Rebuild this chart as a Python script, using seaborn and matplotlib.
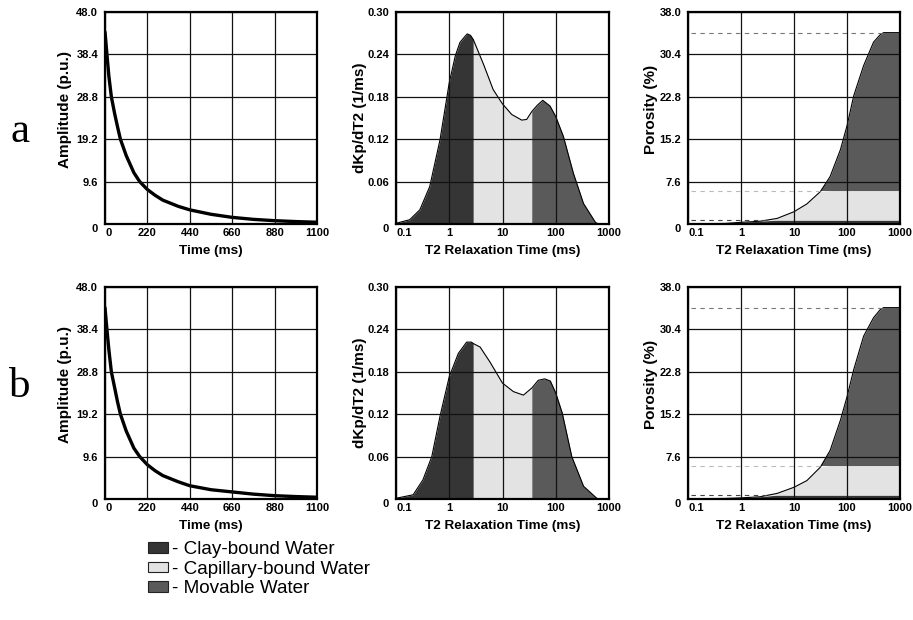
import numpy as np
import pandas as pd
import matplotlib
matplotlib.use("Agg")
import matplotlib.pyplot as plt
from matplotlib.patches import Patch
import seaborn as sns

# ---- data ----
# echo decay (left panels)
decay_t = [0, 5, 10, 20, 33, 50, 65, 80, 110, 150, 180, 220, 260, 300, 380, 440,
           550, 660, 770, 880, 990, 1100]
decay_a = [43.5, 41.0, 38.4, 33.5, 28.8, 25.0, 22.0, 19.2, 15.5, 11.6, 9.6, 7.8,
           6.5, 5.4, 4.0, 3.2, 2.2, 1.5, 1.05, 0.75, 0.55, 0.4]
decay_b = [43.3, 40.8, 38.4, 33.8, 28.8, 25.2, 22.0, 19.2, 15.4, 11.5, 9.6, 7.75,
           6.4, 5.3, 3.9, 3.0, 2.1, 1.6, 1.1, 0.75, 0.55, 0.4]

# T2 distribution (middle panels)
t2_a = [0.1, 0.18, 0.28, 0.43, 0.67, 1.0, 1.3, 1.59, 2.0, 2.18, 2.5, 2.83, 4.4, 6.7, 10,
        14.9, 23, 28.5, 35.4, 45, 57, 78, 100, 139, 214, 332, 560, 650]
dist_a = [0.001, 0.006, 0.02, 0.053, 0.119, 0.200, 0.238, 0.257, 0.266, 0.269, 0.267, 0.261,
          0.226, 0.190, 0.170, 0.155, 0.147, 0.148, 0.159, 0.168, 0.175, 0.167, 0.152,
          0.124, 0.072, 0.029, 0.002, 0.0]
t2_b = [0.1, 0.21, 0.32, 0.47, 0.67, 1.0, 1.48, 2.12, 2.6, 2.83, 3.8, 5.8, 10, 16,
        24.7, 35.5, 47, 62, 79, 100, 132, 200, 333, 590, 650]
dist_b = [0.001, 0.006, 0.027, 0.06, 0.117, 0.173, 0.206, 0.222, 0.222, 0.220, 0.215,
          0.194, 0.164, 0.152, 0.147, 0.157, 0.168, 0.170, 0.167, 0.150, 0.122, 0.06,
          0.018, 0.001, 0.0]
cutoffs_a = [2.83, 35.4]
cutoffs_b = [2.83, 35.5]

# cumulative porosity (right panels)
cum_t = [0.1, 0.5, 1.0, 2.3, 4.8, 10, 17.5, 31.4, 48, 75, 100, 134, 206, 317, 420, 490, 1000]
cum_a = [0.05, 0.1, 0.3, 0.5, 1.0, 2.2, 3.6, 5.8, 8.5, 13.3, 17.6, 23.0, 28.4, 32.6, 33.9, 34.3, 34.3]
cum_b = [0.05, 0.1, 0.2, 0.4, 1.0, 2.1, 3.3, 5.7, 8.7, 14.1, 18.3, 23.2, 29.2, 32.5, 33.9, 34.3, 34.3]
band_tops = [0.7, 6.0]   # clay-bound / capillary-bound porosity

legend_labels = ["- Clay-bound Water", "- Capillary-bound Water", "- Movable Water"]
colors = ["#353535", "#e3e3e3", "#5a5a5a"]

# ---- style ----
sns.set_style("white")
plt.rcParams['font.family'] = ['Liberation Sans', 'DejaVu Sans']
plt.rcParams.update({'text.color': 'black', 'axes.labelcolor': 'black',
                     'xtick.color': 'black', 'ytick.color': 'black'})

fig = plt.figure(figsize=(9.13, 6.20), dpi=100)
W, H = 913, 620


def make_ax(x0, top, w=212, h=212):
    return fig.add_axes([x0 / W, (H - top - h) / H, w / W, h / H])


def style_ax(ax, xticks, xlabels, yticks, ylabels, xlabel, ylabel, ylab_xy):
    ax.set_xticks(xticks)
    ax.set_xticklabels(xlabels, fontsize=8, fontweight='bold')
    ax.set_yticks(yticks)
    ax.set_yticklabels(ylabels, fontsize=8, fontweight='bold')
    ax.get_xticklabels()[0].set_ha('left')
    ax.get_yticklabels()[0].set_va('top')
    ax.tick_params(axis='x', length=0, pad=3)
    ax.tick_params(axis='y', length=0, pad=5)
    ax.grid(True, color='#111111', linewidth=0.9)
    ax.set_axisbelow(False)
    for s in ax.spines.values():
        s.set_linewidth(1.6)
        s.set_color('black')
        s.set_zorder(5)
    ax.set_xlabel(xlabel, fontsize=9.7, fontweight='bold')
    ax.set_ylabel(ylabel, fontsize=11, fontweight='bold')
    ax.xaxis.set_label_coords(0.5, -0.097)
    ax.yaxis.set_label_coords(*ylab_xy)


rows = [(12, 142, decay_a, t2_a, dist_a, cutoffs_a, cum_a, "a"),
        (287, 397, decay_b, t2_b, dist_b, cutoffs_b, cum_b, "b")]
for top, base, decay, t2, dist, cuts, cum, tag in rows:
    # decay curve
    ax1 = make_ax(105, top)
    sns.lineplot(data=pd.DataFrame({"t": decay_t, "amp": decay}), x="t", y="amp",
                 ax=ax1, color='black', linewidth=2.4)
    ax1.set_xlim(0, 1100)
    ax1.set_ylim(0, 48)
    style_ax(ax1, [0, 220, 440, 660, 880, 1100], ["0", "220", "440", "660", "880", "1100"],
             [0, 9.6, 19.2, 28.8, 38.4, 48.0], ["0", "9.6", "19.2", "28.8", "38.4", "48.0"],
             "Time (ms)", "Amplitude (p.u.)", (-0.156, 0.542))

    # T2 distribution
    ax2 = make_ax(396, top, w=213)
    t2n = np.array(t2)
    dn = np.array(dist)
    bounds = [t2n[0], cuts[0], cuts[1], t2n[-1]]
    for i in range(3):
        m = (t2n >= bounds[i] - 1e-9) & (t2n <= bounds[i + 1] + 1e-9)
        ax2.fill_between(t2n[m], 0, dn[m], color=colors[i], linewidth=0, zorder=1)
    sns.lineplot(data=pd.DataFrame({"t2": t2, "d": dist}), x="t2", y="d", ax=ax2,
                 color='black', linewidth=0.8, zorder=2)
    ax2.set_xscale('log')
    ax2.set_xlim(0.1, 1000)
    ax2.set_ylim(0, 0.30)
    style_ax(ax2, [0.1, 1, 10, 100, 1000], ["0.1", "1", "10", "100", "1000"],
             [0, 0.06, 0.12, 0.18, 0.24, 0.30], ["0", "0.06", "0.12", "0.18", "0.24", "0.30"],
             "T2 Relaxation Time (ms)", "dKp/dT2 (1/ms)", (-0.136, 0.5))

    # cumulative porosity
    ax3 = make_ax(688, top)
    ct = np.array(cum_t)
    cv = np.array(cum)
    lo_hi = [(0, band_tops[0]), (band_tops[0], band_tops[1]), (band_tops[1], cv.max())]
    for (lo, hi), c in zip(lo_hi, colors):
        ax3.fill_between(ct, lo, np.clip(cv, lo, hi), color=c, linewidth=0, zorder=1)
    sns.lineplot(data=pd.DataFrame({"t2": cum_t, "p": cum}), x="t2", y="p", ax=ax3,
                 color='black', linewidth=0.8, zorder=2)
    dash_levels = [band_tops[0], band_tops[1], cv.max()]
    dash_colors = ['#444444', '#bbbbbb', '#777777']
    for lvl, dc in zip(dash_levels, dash_colors):
        x_end = np.interp(lvl - 1e-6, cv, ct)
        ax3.plot([0.115, x_end], [lvl, lvl], linestyle=(0, (4, 4)), color=dc,
                 linewidth=0.8, zorder=2)
    ax3.set_xscale('log')
    ax3.set_xlim(0.1, 1000)
    ax3.set_ylim(0, 38)
    style_ax(ax3, [0.1, 1, 10, 100, 1000], ["0.1", "1", "10", "100", "1000"],
             [0, 7.6, 15.2, 22.8, 30.4, 38.0], ["0", "7.6", "15.2", "22.8", "30.4", "38.0"],
             "T2 Relaxation Time (ms)", "Porosity (%)", (-0.142, 0.542))

    # row tag
    fig.text(20 / W, 1 - base / H, tag, fontsize=31, family='Liberation Serif',
             ha='center', va='baseline')

handles = [Patch(facecolor=c, edgecolor='#222222', linewidth=0.8) for c in colors]
fig.legend(handles, legend_labels, loc='upper left', bbox_to_anchor=(139 / W, 1 - 532 / H),
           frameon=False, fontsize=13.6, handlelength=1.05, handleheight=0.5,
           handletextpad=0.2, labelspacing=0.12, borderpad=0)

fig.savefig("out.png", dpi=100)
